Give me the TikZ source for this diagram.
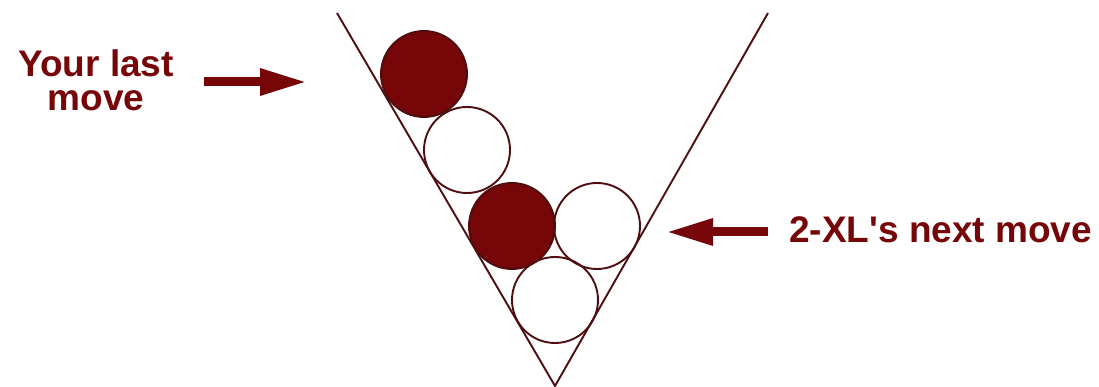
\documentclass[tikz,border=0pt]{standalone}
\usepackage{fontspec}
\setmainfont{Liberation Sans}
\usepackage{xcolor}
\usetikzlibrary{arrows.meta, positioning}
\definecolor{maroon}{RGB}{118,6,8}
\definecolor{wallred}{RGB}{78,14,16}

\begin{document}
\begin{tikzpicture}[x=1pt, y=1pt,
  ball/.style={circle, draw=wallred, line width=1.9pt, minimum size=86pt, inner sep=0pt},
  played/.style={ball, fill=maroon},
  wall/.style={wallred, line width=1.9pt},
  label/.style={text=maroon, inner sep=0pt, align=center,
                font=\fontsize{37}{34}\selectfont\bfseries},
  movearrow/.style={maroon, line width=9pt, -{Triangle[length=47pt, width=25pt]}}
]
  \useasboundingbox (0,0) rectangle (1099,387);

  % the V shaped rack
  \coordinate (tip) at (555,1);
  \coordinate (lefttop) at (337,374);
  \coordinate (righttop) at (768,374);
  \draw[wall] (lefttop) -- (tip) -- (righttop);

  % balls
  \node[played] (ball1) at (424,313) {};
  \node[ball] (ball2) at (467,237) {};
  \node[played] (ball3) at (512,161) {};
  \node[ball] (ball4) at (597,161) {};
  \node[ball] (ball5) at (555,87) {};

  % labels
  \node[label] (lastlbl) at (96,307) {Your last\\move};
  \node[label, anchor=base west] (nextlbl) at (789,144) {2-XL\textquotesingle s next move};

  \coordinate (lasttail) at (204,305);
  \coordinate (lasthead) at (307,305);
  \coordinate (nexttail) at (768,155);
  \coordinate (nexthead) at (666,155);
  \draw[movearrow] (lasttail) -- (lasthead);
  \draw[movearrow] (nexttail) -- (nexthead);
\end{tikzpicture}
\end{document}
